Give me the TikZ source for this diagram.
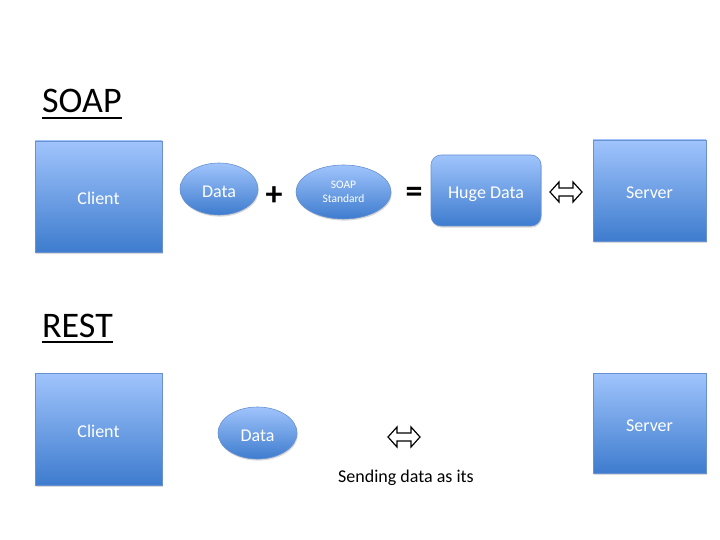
\documentclass[tikz,border=0pt]{standalone}
\usepackage{fontspec}
\setmainfont{Carlito}
\usetikzlibrary{shapes.geometric,shadows}
\definecolor{boxtop}{RGB}{160,196,252}
\definecolor{boxbot}{RGB}{62,124,206}
\definecolor{boxline}{RGB}{105,145,210}
\begin{document}
\begin{tikzpicture}[x=1pt,y=-1pt,
  bluefill/.style={draw=boxline, line width=0.6pt, top color=boxtop, bottom color=boxbot,
    text=white, inner sep=0pt,
    drop shadow={opacity=0.3, shadow xshift=0.8pt, shadow yshift=-1.6pt}},
  bigtext/.style={font=\fontsize{18}{20}\selectfont, text height=17pt, text depth=0pt},
  sqbox/.style={bluefill, bigtext, rectangle},
  rbox/.style={bluefill, bigtext, rectangle, rounded corners=10pt},
  oval/.style={bluefill, bigtext, ellipse},
  smalloval/.style={bluefill, ellipse, align=center, font=\fontsize{11.5}{14}\selectfont},
  title/.style={font=\fontsize{36}{40}\selectfont, anchor=base west, inner sep=0pt},
  uline/.style={line width=1.8pt},
  sym/.style={font=\fontsize{34}{34}\selectfont\bfseries, inner sep=0pt},
  dblarrow/.style={line width=1.2pt, line join=miter}
]
\useasboundingbox (0,0) rectangle (720,540);

% SOAP row
\node[title] (soap) at (42,113) {SOAP};
\draw[uline] ([yshift=-5pt]soap.base west) -- ([yshift=-5pt]soap.base east);

\node[sqbox, minimum width=127pt, minimum height=111pt] (client1) at (98.5,196.5) {Client};
\node[oval, minimum width=78pt, minimum height=52pt] (data1) at (219,189) {Data};
\node[sym] (plus) at (274,196.5) {+};
\node[smalloval, minimum width=95pt, minimum height=54pt] (std) at (343.5,192) {SOAP\\Standard};
\node[sym] (eq) at (414,194.5) {=};
\node[rbox, minimum width=110pt, minimum height=71pt] (huge) at (486,190.5) {Huge Data};
\node[sqbox, minimum width=113pt, minimum height=101pt] (server1) at (649.5,190.5) {Server};

\coordinate (da1) at (566,192);
\draw[dblarrow] ([shift={(-16,0)}]da1) -- ++(9,-10) -- ++(0,6) -- ++(14,0) -- ++(0,-6)
  -- ++(9,10) -- ++(-9,10) -- ++(0,-6) -- ++(-14,0) -- ++(0,6) -- cycle;

% REST row
\node[title] (rest) at (42,337) {REST};
\draw[uline] ([yshift=-5pt]rest.base west) -- ([yshift=-5pt]rest.base east);

\node[sqbox, minimum width=127pt, minimum height=112pt] (client2) at (98.5,429) {Client};
\node[oval, minimum width=79pt, minimum height=52pt] (data2) at (257.5,433) {Data};
\node[sqbox, minimum width=113pt, minimum height=100pt] (server2) at (649.5,423) {Server};

\coordinate (da2) at (404,437);
\draw[dblarrow] ([shift={(-16,0)}]da2) -- ++(9,-10) -- ++(0,6) -- ++(14,0) -- ++(0,-6)
  -- ++(9,10) -- ++(-9,10) -- ++(0,-6) -- ++(-14,0) -- ++(0,6) -- cycle;

\node[font=\fontsize{18}{20}\selectfont, anchor=base, inner sep=0pt] (send) at (406,482) {Sending data as its};
\end{tikzpicture}
\end{document}
